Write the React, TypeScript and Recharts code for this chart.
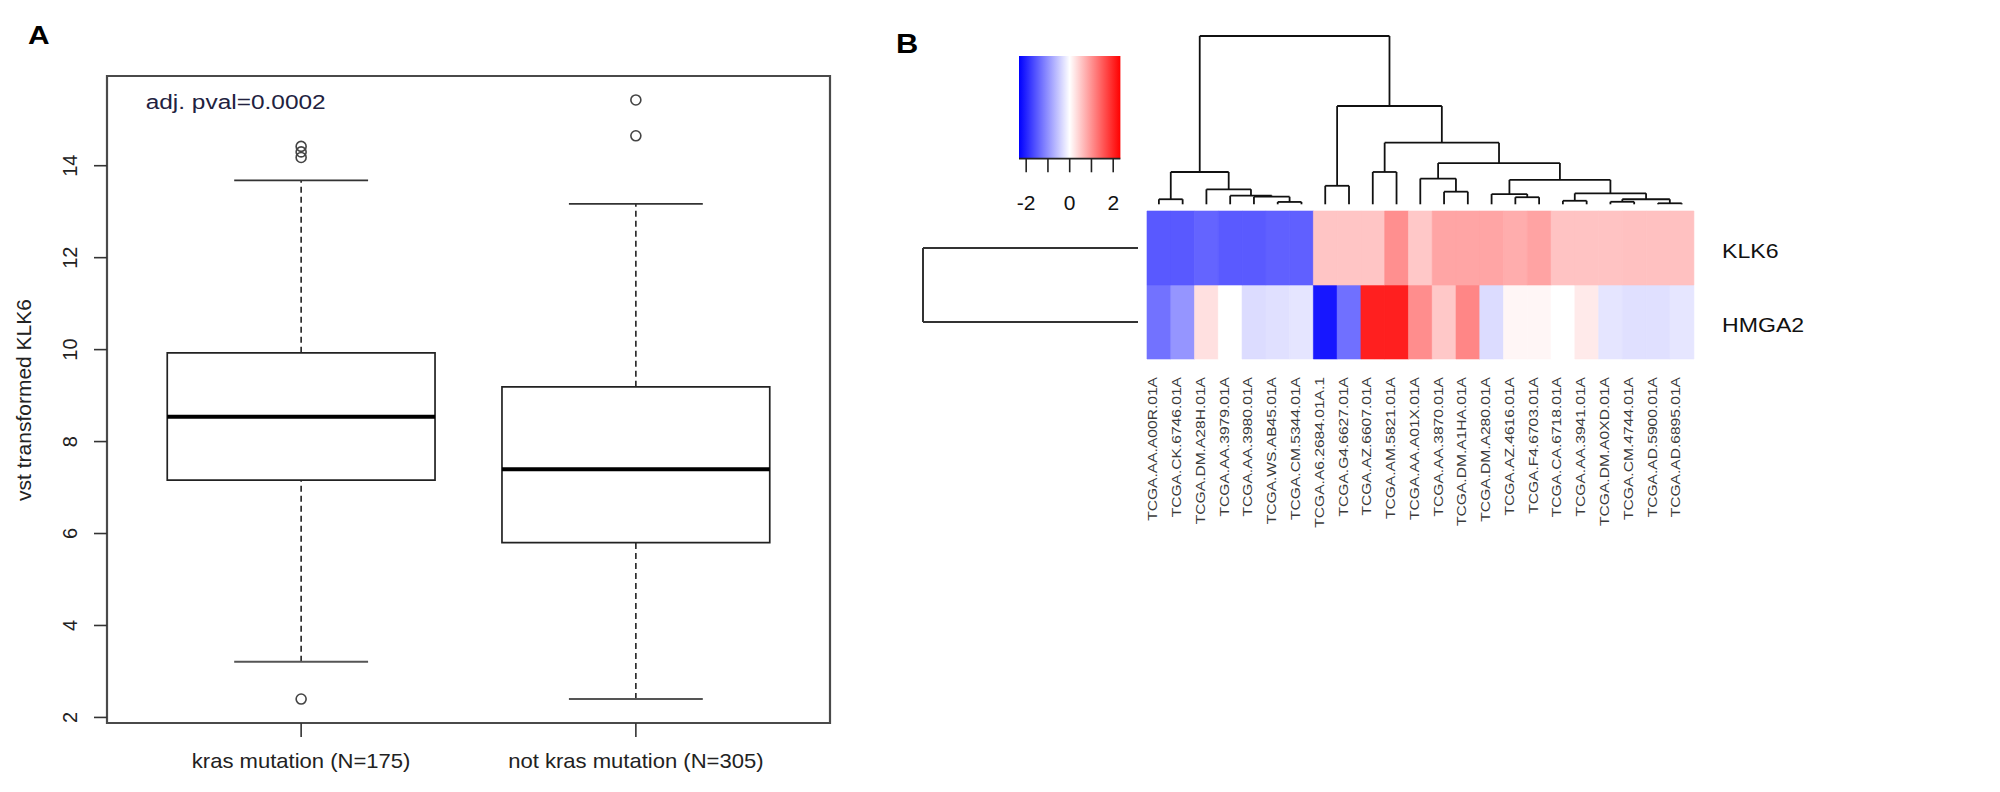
import React from "react";
import {
  ComposedChart,
  BarChart,
  Bar,
  Cell,
  XAxis,
  YAxis,
  Scatter,
  ReferenceLine,
  ReferenceArea,
} from "recharts";

const FONT = "'Liberation Sans', Arial, Helvetica, sans-serif";

// ---------------- Panel A : boxplot ----------------
const groupLabels = ["kras mutation (N=175)", "not kras mutation (N=305)"];
const groupPos = [1, 2];
const whiskerLow = [3.21, 2.4];
const boxQ1 = [7.16, 5.8];
const boxMedian = [8.54, 7.4];
const boxQ3 = [9.93, 9.19];
const whiskerHigh = [13.68, 13.17];
const outlierGroup = [1, 1, 1, 1, 2, 2];
const outlierValues = [2.4, 14.18, 14.3, 14.42, 14.65, 15.43];
const yTicksA = [2, 4, 6, 8, 10, 12, 14];
const pvalText = "adj. pval=0.0002";
const yLabelA = "vst transformed KLK6";

const outlierData = outlierGroup.map((g, i) => ({ x: g, y: outlierValues[i] }));
const allA = [...whiskerLow, ...whiskerHigh, ...outlierValues];
const yMinA = Math.min(...allA);
const yMaxA = Math.max(...allA);
const yPadA = (yMaxA - yMinA) * 0.04;
const yDomainA: [number, number] = [yMinA - yPadA, yMaxA + yPadA];
const xPadA = groupPos.length * 0.04;
const xDomainA: [number, number] = [0.5 - xPadA, groupPos.length + 0.5 + xPadA];
const BOX_HALF = 0.4;
const CAP_HALF = 0.2;

// ---------------- Panel B : heatmap ----------------
const sampleIds = [
  "TCGA.AA.A00R.01A",
  "TCGA.CK.6746.01A",
  "TCGA.DM.A28H.01A",
  "TCGA.AA.3979.01A",
  "TCGA.AA.3980.01A",
  "TCGA.WS.AB45.01A",
  "TCGA.CM.5344.01A",
  "TCGA.A6.2684.01A.1",
  "TCGA.G4.6627.01A",
  "TCGA.AZ.6607.01A",
  "TCGA.AM.5821.01A",
  "TCGA.AA.A01X.01A",
  "TCGA.AA.3870.01A",
  "TCGA.DM.A1HA.01A",
  "TCGA.DM.A280.01A",
  "TCGA.AZ.4616.01A",
  "TCGA.F4.6703.01A",
  "TCGA.CA.6718.01A",
  "TCGA.AA.3941.01A",
  "TCGA.DM.A0XD.01A",
  "TCGA.CM.4744.01A",
  "TCGA.AD.5900.01A",
  "TCGA.AD.6895.01A",
];
const klk6Z = [
  -1.52, -1.52, -1.42, -1.51, -1.51, -1.45, -1.45, 0.53, 0.53, 0.53, 1.02, 0.5,
  0.82, 0.82, 0.82, 0.75, 0.84, 0.55, 0.55, 0.55, 0.57, 0.57, 0.57,
];
const hmga2Z = [
  -1.29, -0.97, 0.28, 0.0, -0.32, -0.28, -0.24, -2.12, -1.31, 2.05, 2.05, 1.04,
  0.5, 1.11, -0.32, 0.08, 0.08, 0.0, 0.19, -0.24, -0.28, -0.28, -0.23,
];
const geneRows = ["HMGA2", "KLK6"]; // bottom to top
const keyTicks = [-2, -1, 0, 1, 2];
const keyLabels = [-2, 0, 2];
const KEY_MAX = 2.33;

// hclust-style merges: negative = leaf (1-based, display order), positive = earlier merge
const colMerges = [
  [-6, -7, 0.14],
  [-5, 1, 0.45],
  [-4, 2, 0.51],
  [-3, 3, 0.89],
  [-1, -2, 0.3],
  [5, 4, 1.92],
  [-8, -9, 1.1],
  [-10, -11, 1.92],
  [-13, -14, 0.75],
  [-12, 9, 1.53],
  [-16, -17, 0.42],
  [-15, 11, 0.61],
  [-18, -19, 0.21],
  [-20, -21, 0.15],
  [-22, -23, 0.06],
  [14, 15, 0.3],
  [13, 16, 0.65],
  [12, 17, 1.45],
  [10, 18, 2.45],
  [8, 19, 3.66],
  [7, 20, 5.84],
  [6, 21, 10.0],
];
const rowMerges = [[-1, -2, 1.0]];

type Seg = { p1: number; h1: number; p2: number; h2: number };
function dendroSegments(merges: number[][]): Seg[] {
  const pos: number[] = [];
  const hgt: number[] = [];
  const segs: Seg[] = [];
  const node = (r: number) => (r < 0 ? { p: -r - 0.5, h: 0 } : { p: pos[r - 1], h: hgt[r - 1] });
  merges.forEach(([a, b, h], i) => {
    const A = node(a);
    const B = node(b);
    segs.push({ p1: A.p, h1: A.h, p2: A.p, h2: h });
    segs.push({ p1: B.p, h1: B.h, p2: B.p, h2: h });
    segs.push({ p1: A.p, h1: h, p2: B.p, h2: h });
    pos[i] = (A.p + B.p) / 2;
    hgt[i] = h;
  });
  return segs;
}
const colSegs = dendroSegments(colMerges);
const rowSegs = dendroSegments(rowMerges);
const colTop = Math.max(...colMerges.map((m) => m[2]));
const rowTop = Math.max(...rowMerges.map((m) => m[2]));

function zColor(z: number) {
  const t = Math.min(1, Math.abs(z) / KEY_MAX);
  const v = Math.round(255 * (1 - t));
  return z < 0 ? `rgb(${v},${v},255)` : `rgb(255,${v},${v})`;
}

const heatData = sampleIds.map((id) => ({ id, HMGA2: 1, KLK6: 1 }));
const Empty = () => <g />;

// ---------- tick renderers ----------
const YTickA = (props: any) => {
  const { x, y, payload } = props;
  const cx = x - 24;
  return (
    <text
      x={cx}
      y={y}
      transform={`rotate(-90 ${cx} ${y})`}
      textAnchor="middle"
      dominantBaseline="central"
      fontSize={20}
      fontFamily={FONT}
      fill="#222"
    >
      {payload.value}
    </text>
  );
};
const XTickA = (props: any) => {
  const { x, y, payload } = props;
  const idx = groupPos.indexOf(payload.value);
  return (
    <g transform={`translate(${x},${y + 31}) scale(1.05,1)`}>
      <text x={0} y={0} textAnchor="middle" fontSize={21} fontFamily={FONT} fill="#222">
        {groupLabels[idx]}
      </text>
    </g>
  );
};
const ColTick = (props: any) => {
  const { x, y, payload } = props;
  return (
    <g transform={`translate(${x - 1.5},${y + 18}) rotate(-90) scale(1.2,1)`}>
      <text x={0} y={0} textAnchor="end" fontSize={13} fontFamily={FONT} fill="#3a3a3a">
        {payload.value}
      </text>
    </g>
  );
};
const RowTick = (props: any) => {
  const { x, y, payload } = props;
  return (
    <g transform={`translate(${x + 28.4},${y + 3}) scale(1.1,1)`}>
      <text x={0} y={0} dominantBaseline="central" fontSize={21} fontFamily={FONT} fill="#111">
        {geneRows[Math.floor(payload.value)]}
      </text>
    </g>
  );
};
const KeyTick = (props: any) => {
  const { x, y, payload } = props;
  if (!keyLabels.includes(payload.value)) return <g />;
  return (
    <text x={x} y={y + 30} textAnchor="middle" dominantBaseline="central" fontSize={21} fontFamily={FONT} fill="#111">
      {payload.value}
    </text>
  );
};
const OutlierShape = (props: any) => (
  <circle cx={props.cx} cy={props.cy} r={5} fill="none" stroke="#444" strokeWidth={1.6} />
);

const abs = (left: number, top: number): React.CSSProperties => ({
  position: "absolute",
  left,
  top,
});

export default function App() {
  return (
    <div
      style={{
        position: "absolute",
        left: 0,
        top: 0,
        width: 2000,
        height: 792,
        background: "#fff",
        overflow: "hidden",
        fontFamily: FONT,
      }}
    >
      {/* Panel A */}
      <div style={abs(0, 0)}>
        <ComposedChart
          width={880}
          height={792}
          data={outlierData}
          margin={{ top: 76, right: 50, bottom: 9, left: 27 }}
        >
          <XAxis
            type="number"
            dataKey="x"
            domain={xDomainA}
            ticks={groupPos}
            allowDataOverflow
            interval={0}
            height={60}
            tickSize={14}
            tickMargin={0}
            axisLine={false}
            tickLine={{ stroke: "#333", strokeWidth: 1.6 }}
            tick={XTickA}
          />
          <YAxis
            type="number"
            dataKey="y"
            domain={yDomainA}
            ticks={yTicksA}
            allowDataOverflow
            interval={0}
            width={80}
            tickSize={13}
            tickMargin={0}
            axisLine={false}
            tickLine={{ stroke: "#333", strokeWidth: 1.6 }}
            tick={YTickA}
          />
          <ReferenceArea
            x1={xDomainA[0]}
            x2={xDomainA[1]}
            y1={yDomainA[0]}
            y2={yDomainA[1]}
            fill="none"
            stroke="#4a4a4a"
            strokeWidth={2.2}
          />
          {groupPos.map((g, i) => (
            <ReferenceLine
              key={`wl${i}`}
              segment={[
                { x: g, y: whiskerLow[i] },
                { x: g, y: boxQ1[i] },
              ]}
              stroke="#222"
              strokeWidth={1.6}
              strokeDasharray="6 4"
              ifOverflow="visible"
            />
          ))}
          {groupPos.map((g, i) => (
            <ReferenceLine
              key={`wh${i}`}
              segment={[
                { x: g, y: boxQ3[i] },
                { x: g, y: whiskerHigh[i] },
              ]}
              stroke="#222"
              strokeWidth={1.6}
              strokeDasharray="6 4"
              ifOverflow="visible"
            />
          ))}
          {groupPos.map((g, i) => (
            <ReferenceLine
              key={`cl${i}`}
              segment={[
                { x: g - CAP_HALF, y: whiskerLow[i] },
                { x: g + CAP_HALF, y: whiskerLow[i] },
              ]}
              stroke="#555"
              strokeWidth={2}
              ifOverflow="visible"
            />
          ))}
          {groupPos.map((g, i) => (
            <ReferenceLine
              key={`ch${i}`}
              segment={[
                { x: g - CAP_HALF, y: whiskerHigh[i] },
                { x: g + CAP_HALF, y: whiskerHigh[i] },
              ]}
              stroke="#333"
              strokeWidth={1.8}
              ifOverflow="visible"
            />
          ))}
          {groupPos.map((g, i) => (
            <ReferenceArea
              key={`box${i}`}
              x1={g - BOX_HALF}
              x2={g + BOX_HALF}
              y1={boxQ1[i]}
              y2={boxQ3[i]}
              fill="#fff"
              fillOpacity={1}
              stroke="#222"
              strokeWidth={1.7}
            />
          ))}
          {groupPos.map((g, i) => (
            <ReferenceLine
              key={`med${i}`}
              segment={[
                { x: g - BOX_HALF, y: boxMedian[i] },
                { x: g + BOX_HALF, y: boxMedian[i] },
              ]}
              stroke="#000"
              strokeWidth={4}
              ifOverflow="visible"
            />
          ))}
          <Scatter dataKey="y" shape={OutlierShape} isAnimationActive={false} />
        </ComposedChart>
      </div>

      {/* Panel B: colour key */}
      <div style={abs(1014.3, 50.7)}>
        <ComposedChart
          width={111.4}
          height={167.6}
          data={keyTicks.map((k) => ({ x: k, y: 0.5 }))}
          margin={{ top: 5, right: 5, bottom: 0, left: 5 }}
        >
          <defs>
            <linearGradient id="keyGrad" x1="0" y1="0" x2="1" y2="0">
              {[-KEY_MAX, 0, KEY_MAX].map((v, i) => (
                <stop key={i} offset={`${((v + KEY_MAX) / (2 * KEY_MAX)) * 100}%`} stopColor={zColor(v)} />
              ))}
            </linearGradient>
          </defs>
          <XAxis
            type="number"
            dataKey="x"
            domain={[-KEY_MAX, KEY_MAX]}
            ticks={keyTicks}
            allowDataOverflow
            interval={0}
            height={60}
            tickSize={13.7}
            tickMargin={0}
            axisLine={{ stroke: "#222", strokeWidth: 1.6 }}
            tickLine={{ stroke: "#222", strokeWidth: 1.6 }}
            tick={KeyTick}
          />
          <YAxis type="number" dataKey="y" domain={[0, 1]} hide />
          <ReferenceArea
            x1={-KEY_MAX}
            x2={KEY_MAX}
            y1={0}
            y2={1}
            fill="url(#keyGrad)"
            fillOpacity={1}
            stroke="none"
          />
          <Scatter dataKey="y" shape={Empty} isAnimationActive={false} />
        </ComposedChart>
      </div>

      {/* Panel B: column dendrogram */}
      <div style={abs(1141.7, 31)}>
        <ComposedChart
          width={556.6}
          height={178.3}
          data={colSegs.map((s) => ({ x: s.p1, y: s.h1 }))}
          margin={{ top: 5, right: 5, bottom: 5, left: 5 }}
        >
          <XAxis type="number" dataKey="x" domain={[0, sampleIds.length]} hide allowDataOverflow />
          <YAxis type="number" dataKey="y" domain={[0, colTop]} hide allowDataOverflow />
          {colSegs.map((s, i) => (
            <ReferenceLine
              key={i}
              segment={[
                { x: s.p1, y: s.h1 },
                { x: s.p2, y: s.h2 },
              ]}
              stroke="#111"
              strokeWidth={1.8}
              ifOverflow="visible"
            />
          ))}
          <Scatter dataKey="y" shape={Empty} isAnimationActive={false} />
        </ComposedChart>
      </div>

      {/* Panel B: row dendrogram */}
      <div style={abs(918, 206)}>
        <ComposedChart
          width={225}
          height={158}
          data={rowSegs.map((s) => ({ x: s.h1, y: s.p1 }))}
          margin={{ top: 5, right: 5, bottom: 5, left: 5 }}
        >
          <XAxis type="number" dataKey="x" domain={[0, rowTop]} reversed hide allowDataOverflow />
          <YAxis type="number" dataKey="y" domain={[0, geneRows.length]} hide allowDataOverflow />
          {rowSegs.map((s, i) => (
            <ReferenceLine
              key={i}
              segment={[
                { x: s.h1, y: s.p1 },
                { x: s.h2, y: s.p2 },
              ]}
              stroke="#333"
              strokeWidth={2}
              ifOverflow="visible"
            />
          ))}
          <Scatter dataKey="y" shape={Empty} isAnimationActive={false} />
        </ComposedChart>
      </div>

      {/* Panel B: heatmap */}
      <div style={abs(1136.7, 201)}>
        <BarChart
          width={686.7}
          height={353}
          data={heatData}
          margin={{ top: 10, right: 10, bottom: 5, left: 10 }}
          barCategoryGap={0}
          barGap={0}
        >
          <XAxis
            dataKey="id"
            type="category"
            interval={0}
            height={190}
            tickSize={0}
            tickMargin={0}
            axisLine={false}
            tickLine={false}
            tick={ColTick}
          />
          <YAxis
            orientation="right"
            type="number"
            domain={[0, geneRows.length]}
            ticks={[0.5, 1.5]}
            width={120}
            tickSize={0}
            tickMargin={0}
            axisLine={false}
            tickLine={false}
            tick={RowTick}
          />
          <Bar dataKey="HMGA2" stackId="s" isAnimationActive={false}>
            {hmga2Z.map((z, i) => (
              <Cell key={i} fill={zColor(z)} stroke={zColor(z)} strokeWidth={0.6} />
            ))}
          </Bar>
          <Bar dataKey="KLK6" stackId="s" isAnimationActive={false}>
            {klk6Z.map((z, i) => (
              <Cell key={i} fill={zColor(z)} stroke={zColor(z)} strokeWidth={0.6} />
            ))}
          </Bar>
        </BarChart>
      </div>

      {/* Text overlay: panel letters, annotation, axis title */}
      <svg width={2000} height={792} style={{ position: "absolute", left: 0, top: 0, pointerEvents: "none" }}>
        <g transform="translate(28,43.5) scale(1.15,1)">
          <text x={0} y={0} fontSize={26} fontWeight="bold" fontFamily={FONT} fill="#000">
            A
          </text>
        </g>
        <g transform="translate(896,53) scale(1.1,1)">
          <text x={0} y={0} fontSize={28} fontWeight="bold" fontFamily={FONT} fill="#000">
            B
          </text>
        </g>
        <text
          x={145.7}
          y={108.5}
          fontSize={20}
          fontFamily={FONT}
          fill="#22223f"
          textLength={180}
          lengthAdjust="spacingAndGlyphs"
        >
          {pvalText}
        </text>
        <text
          x={23}
          y={400}
          transform="rotate(-90 23 400)"
          textAnchor="middle"
          dominantBaseline="central"
          fontSize={21}
          fontFamily={FONT}
          fill="#222"
        >
          {yLabelA}
        </text>
      </svg>
    </div>
  );
}
